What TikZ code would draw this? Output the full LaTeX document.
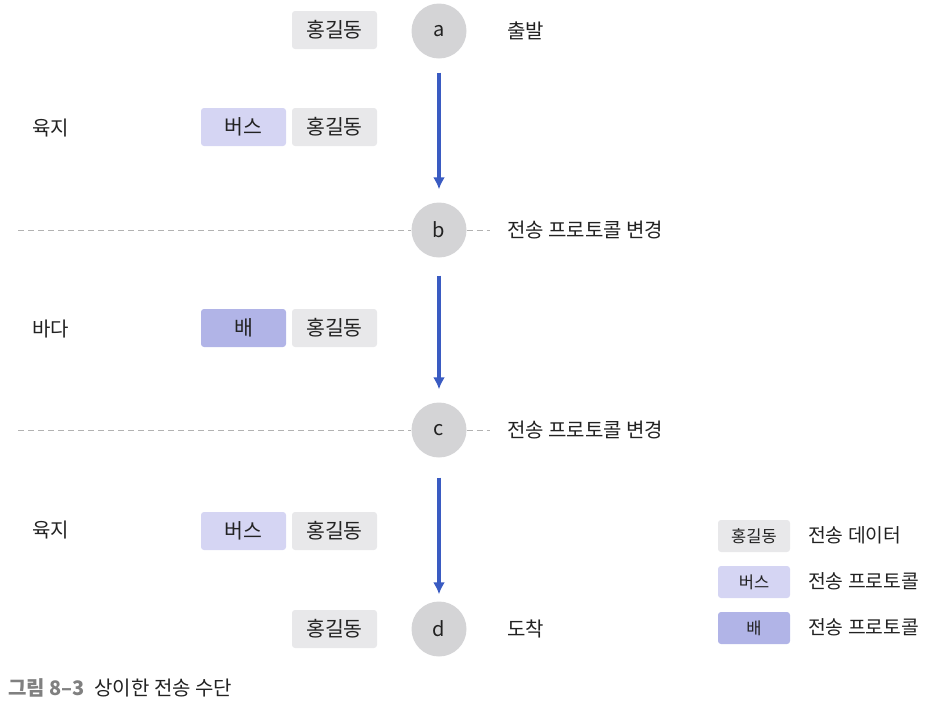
\documentclass[tikz,border=0pt]{standalone}
\usepackage{fontspec}
\usepackage{tikz}
\usetikzlibrary{calc,arrows.meta}
\setmainfont{Noto Sans CJK KR}
\definecolor{datagray}{HTML}{E8E8EA}
\definecolor{buspurple}{HTML}{D5D5F3}
\definecolor{shippurple}{HTML}{B1B4E7}
\definecolor{circgray}{HTML}{D4D4D6}
\definecolor{arrowblue}{HTML}{3A5BC2}
\definecolor{textdark}{HTML}{222222}
\tikzset{
  databox/.style={fill=datagray,rounded corners=3pt,minimum width=85pt,minimum height=38pt,inner sep=0pt,font=\fontsize{20.5}{22}\selectfont,text=textdark},
  busbox/.style={databox,fill=buspurple},
  shipbox/.style={databox,fill=shippurple},
  legbox/.style={rounded corners=3pt,minimum width=72pt,minimum height=32pt,inner sep=0pt,font=\fontsize{16.5}{18}\selectfont,text=textdark},
  hop/.style={circle,fill=circgray,minimum size=55pt,inner sep=0pt,font=\fontsize{20}{22}\selectfont,text=textdark},
  lbl/.style={anchor=west,inner sep=0pt,font=\fontsize{20}{22}\selectfont,text=textdark},
  leglbl/.style={anchor=west,inner sep=0pt,font=\fontsize{19.3}{22}\selectfont,text=textdark},
  flow/.style={arrowblue,line width=3.6pt,-{Latex[length=12pt,width=12pt]}},
  border/.style={gray!60,dash pattern=on 6pt off 4pt,line width=0.8pt}
}
\begin{document}
\begin{tikzpicture}[x=1pt,y=1pt]
  \useasboundingbox (0,0) rectangle (925,-702);
  % stations
  \node[hop] (a) at (439,-31) {a};
  \node[hop] (b) at (439,-230) {b};
  \node[hop] (c) at (439,-430) {c};
  \node[hop] (d) at (439,-629) {d};
  % arrows between stations
  \draw[flow] ($(a.south)+(0,-14)$) -- ($(b.north)+(0,13)$);
  \draw[flow] ($(b.south)+(0,-18)$) -- ($(c.north)+(0,13)$);
  \draw[flow] ($(c.south)+(0,-20)$) -- ($(d.north)+(0,7)$);
  % borders
  \coordinate (bl) at (18,-230);
  \coordinate (br) at (490,-230);
  \coordinate (cl) at (18,-430);
  \coordinate (cr) at (490,-430);
  \draw[border] (bl) -- (b.west);
  \draw[border] (b.east) -- (br);
  \draw[border] (cl) -- (c.west);
  \draw[border] (c.east) -- (cr);
  % right labels
  \node[lbl] (start) at (507,-31) {출발};
  \node[lbl] (chgb) at (507,-230) {전송 프로토콜 변경};
  \node[lbl] (chgc) at (507,-430) {전송 프로토콜 변경};
  \node[lbl] (end) at (507,-629) {도착};
  % left labels
  \node[lbl] (land1) at (32,-128) {육지};
  \node[lbl] (sea) at (32,-329) {바다};
  \node[lbl] (land2) at (32,-530) {육지};
  % packets
  \node[databox] (da) at (334.5,-30) {홍길동};
  \node[busbox] (bus1) at (243.5,-127) {버스};
  \node[databox] (d1) at (334.5,-127) {홍길동};
  \node[shipbox] (ship) at (243.5,-328) {배};
  \node[databox] (d2) at (334.5,-328) {홍길동};
  \node[busbox] (bus2) at (243.5,-531) {버스};
  \node[databox] (d3) at (334.5,-531) {홍길동};
  \node[databox] (dd) at (334.5,-629) {홍길동};
  % legend
  \node[legbox,fill=datagray] (k1) at (754,-536) {홍길동};
  \node[legbox,fill=buspurple] (k2) at (754,-582) {버스};
  \node[legbox,fill=shippurple] (k3) at (754,-628) {배};
  \node[leglbl] (k1t) at (808,-535) {전송 데이터};
  \node[leglbl] (k2t) at (808,-581) {전송 프로토콜};
  \node[leglbl] (k3t) at (808,-627) {전송 프로토콜};
  % caption
  \node[anchor=west,inner sep=0pt,font=\fontsize{20}{22}\selectfont\bfseries,text=gray] (fig) at (8,-688) {그림 8–3};
  \node[anchor=west,inner sep=0pt,font=\fontsize{20}{22}\selectfont,text=textdark] (cap) at (fig.east) {\hspace{9pt}상이한 전송 수단};
\end{tikzpicture}
\end{document}
